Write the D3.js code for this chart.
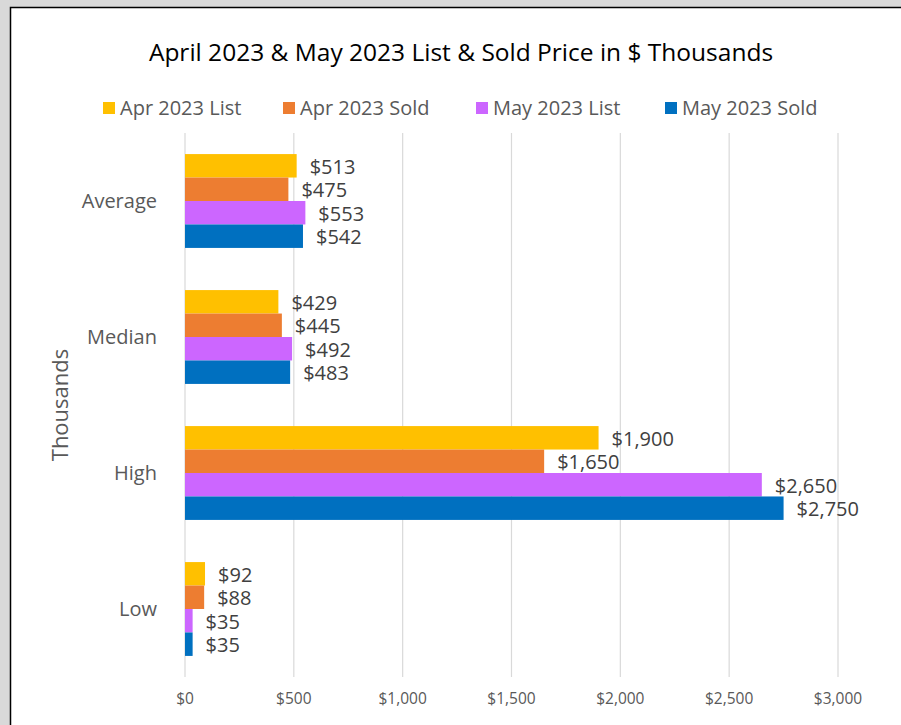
<!DOCTYPE html>
<html>
<head>
<meta charset="utf-8">
<script src="https://cdn.jsdelivr.net/npm/d3@7"></script>
<style>
  body { margin: 0; background: #d9d9d9; }
  text { font-family: "Open Sans", Lato, sans-serif; }
</style>
</head>
<body>
<div id="chart"></div>
<script>
var categories = ["Average", "Median", "High", "Low"];
var seriesNames = ["Apr 2023 List", "Apr 2023 Sold", "May 2023 List", "May 2023 Sold"];
var seriesColors = ["#ffc000", "#ed7d31", "#cc66ff", "#0070c0"];
var aprList = [513, 429, 1900, 92];
var aprSold = [475, 445, 1650, 88];
var mayList = [553, 492, 2650, 35];
var maySold = [542, 483, 2750, 35];
var xTicks = [0, 500, 1000, 1500, 2000, 2500, 3000];

var allSeries = [aprList, aprSold, mayList, maySold];

var width = 901, height = 725;
var svg = d3.select("#chart").append("svg")
    .attr("width", width)
    .attr("height", height);

svg.append("rect")
    .attr("x", 10.5).attr("y", 7.5)
    .attr("width", 1000).attr("height", 1000)
    .attr("fill", "#ffffff")
    .attr("stroke", "#000000")
    .attr("stroke-width", 1.5);

var x = d3.scaleLinear().domain([0, 3000]).range([185, 838]);
var y = d3.scaleBand().domain(categories).range([133, 677]).paddingInner(0.31).paddingOuter(0.155);
var ySub = d3.scaleBand().domain(d3.range(4)).range([0, y.bandwidth()]);

// gridlines
svg.append("g").selectAll("line")
    .data(xTicks).enter().append("line")
    .attr("x1", d => x(d)).attr("x2", d => x(d))
    .attr("y1", 133).attr("y2", 677)
    .attr("stroke", "#d9d9d9").attr("stroke-width", 1.2);

// tick labels
svg.append("g").selectAll("text")
    .data(xTicks).enter().append("text")
    .attr("x", d => x(d)).attr("y", 699)
    .attr("dy", "0.35em")
    .attr("text-anchor", "middle")
    .attr("fill", "#595959")
    .style("font-size", "15.5px")
    .text(d => "$" + d3.format(",")(d));

// bars
var groups = svg.append("g").selectAll("g")
    .data(allSeries).enter().append("g")
    .attr("fill", (d, i) => seriesColors[i]);

groups.each(function(vals, si) {
    d3.select(this).selectAll("rect")
        .data(vals).enter().append("rect")
        .attr("x", x(0))
        .attr("y", (d, ci) => y(categories[ci]) + ySub(si))
        .attr("width", d => x(d) - x(0))
        .attr("height", ySub.bandwidth());

    d3.select(this).selectAll("text")
        .data(vals).enter().append("text")
        .attr("x", d => x(d) + 13)
        .attr("y", (d, ci) => y(categories[ci]) + ySub(si) + ySub.bandwidth() / 2 + 1)
        .attr("dy", "0.35em")
        .attr("fill", "#404040")
        .style("font-size", "20px")
        .text(d => "$" + d3.format(",")(d));
});

// category labels
svg.append("g").selectAll("text")
    .data(categories).enter().append("text")
    .attr("x", 157)
    .attr("y", d => y(d) + y.bandwidth() / 2)
    .attr("dy", "0.35em")
    .attr("text-anchor", "end")
    .attr("fill", "#595959")
    .style("font-size", "20px")
    .text(d => d);

// axis title
svg.append("text")
    .attr("transform", "translate(60,405) rotate(-90)")
    .attr("dy", "0.35em")
    .attr("text-anchor", "middle")
    .attr("fill", "#595959")
    .style("font-size", "22px")
    .text("Thousands");

// title
svg.append("text")
    .attr("x", 461).attr("y", 52)
    .attr("dy", "0.35em")
    .attr("text-anchor", "middle")
    .attr("fill", "#000000")
    .style("font-size", "24.5px")
    .text("April 2023 & May 2023 List & Sold Price in $ Thousands");

// legend
var legendX = [103, 283, 476, 665];
var legend = svg.append("g").selectAll("g")
    .data(seriesNames).enter().append("g")
    .attr("transform", (d, i) => "translate(" + legendX[i] + ",108)");
legend.append("rect")
    .attr("x", 0).attr("y", -6)
    .attr("width", 12).attr("height", 12)
    .attr("fill", (d, i) => seriesColors[i]);
legend.append("text")
    .attr("x", 17).attr("dy", "0.35em")
    .attr("fill", "#595959")
    .style("font-size", "20px")
    .text(d => d);
</script>
</body>
</html>
